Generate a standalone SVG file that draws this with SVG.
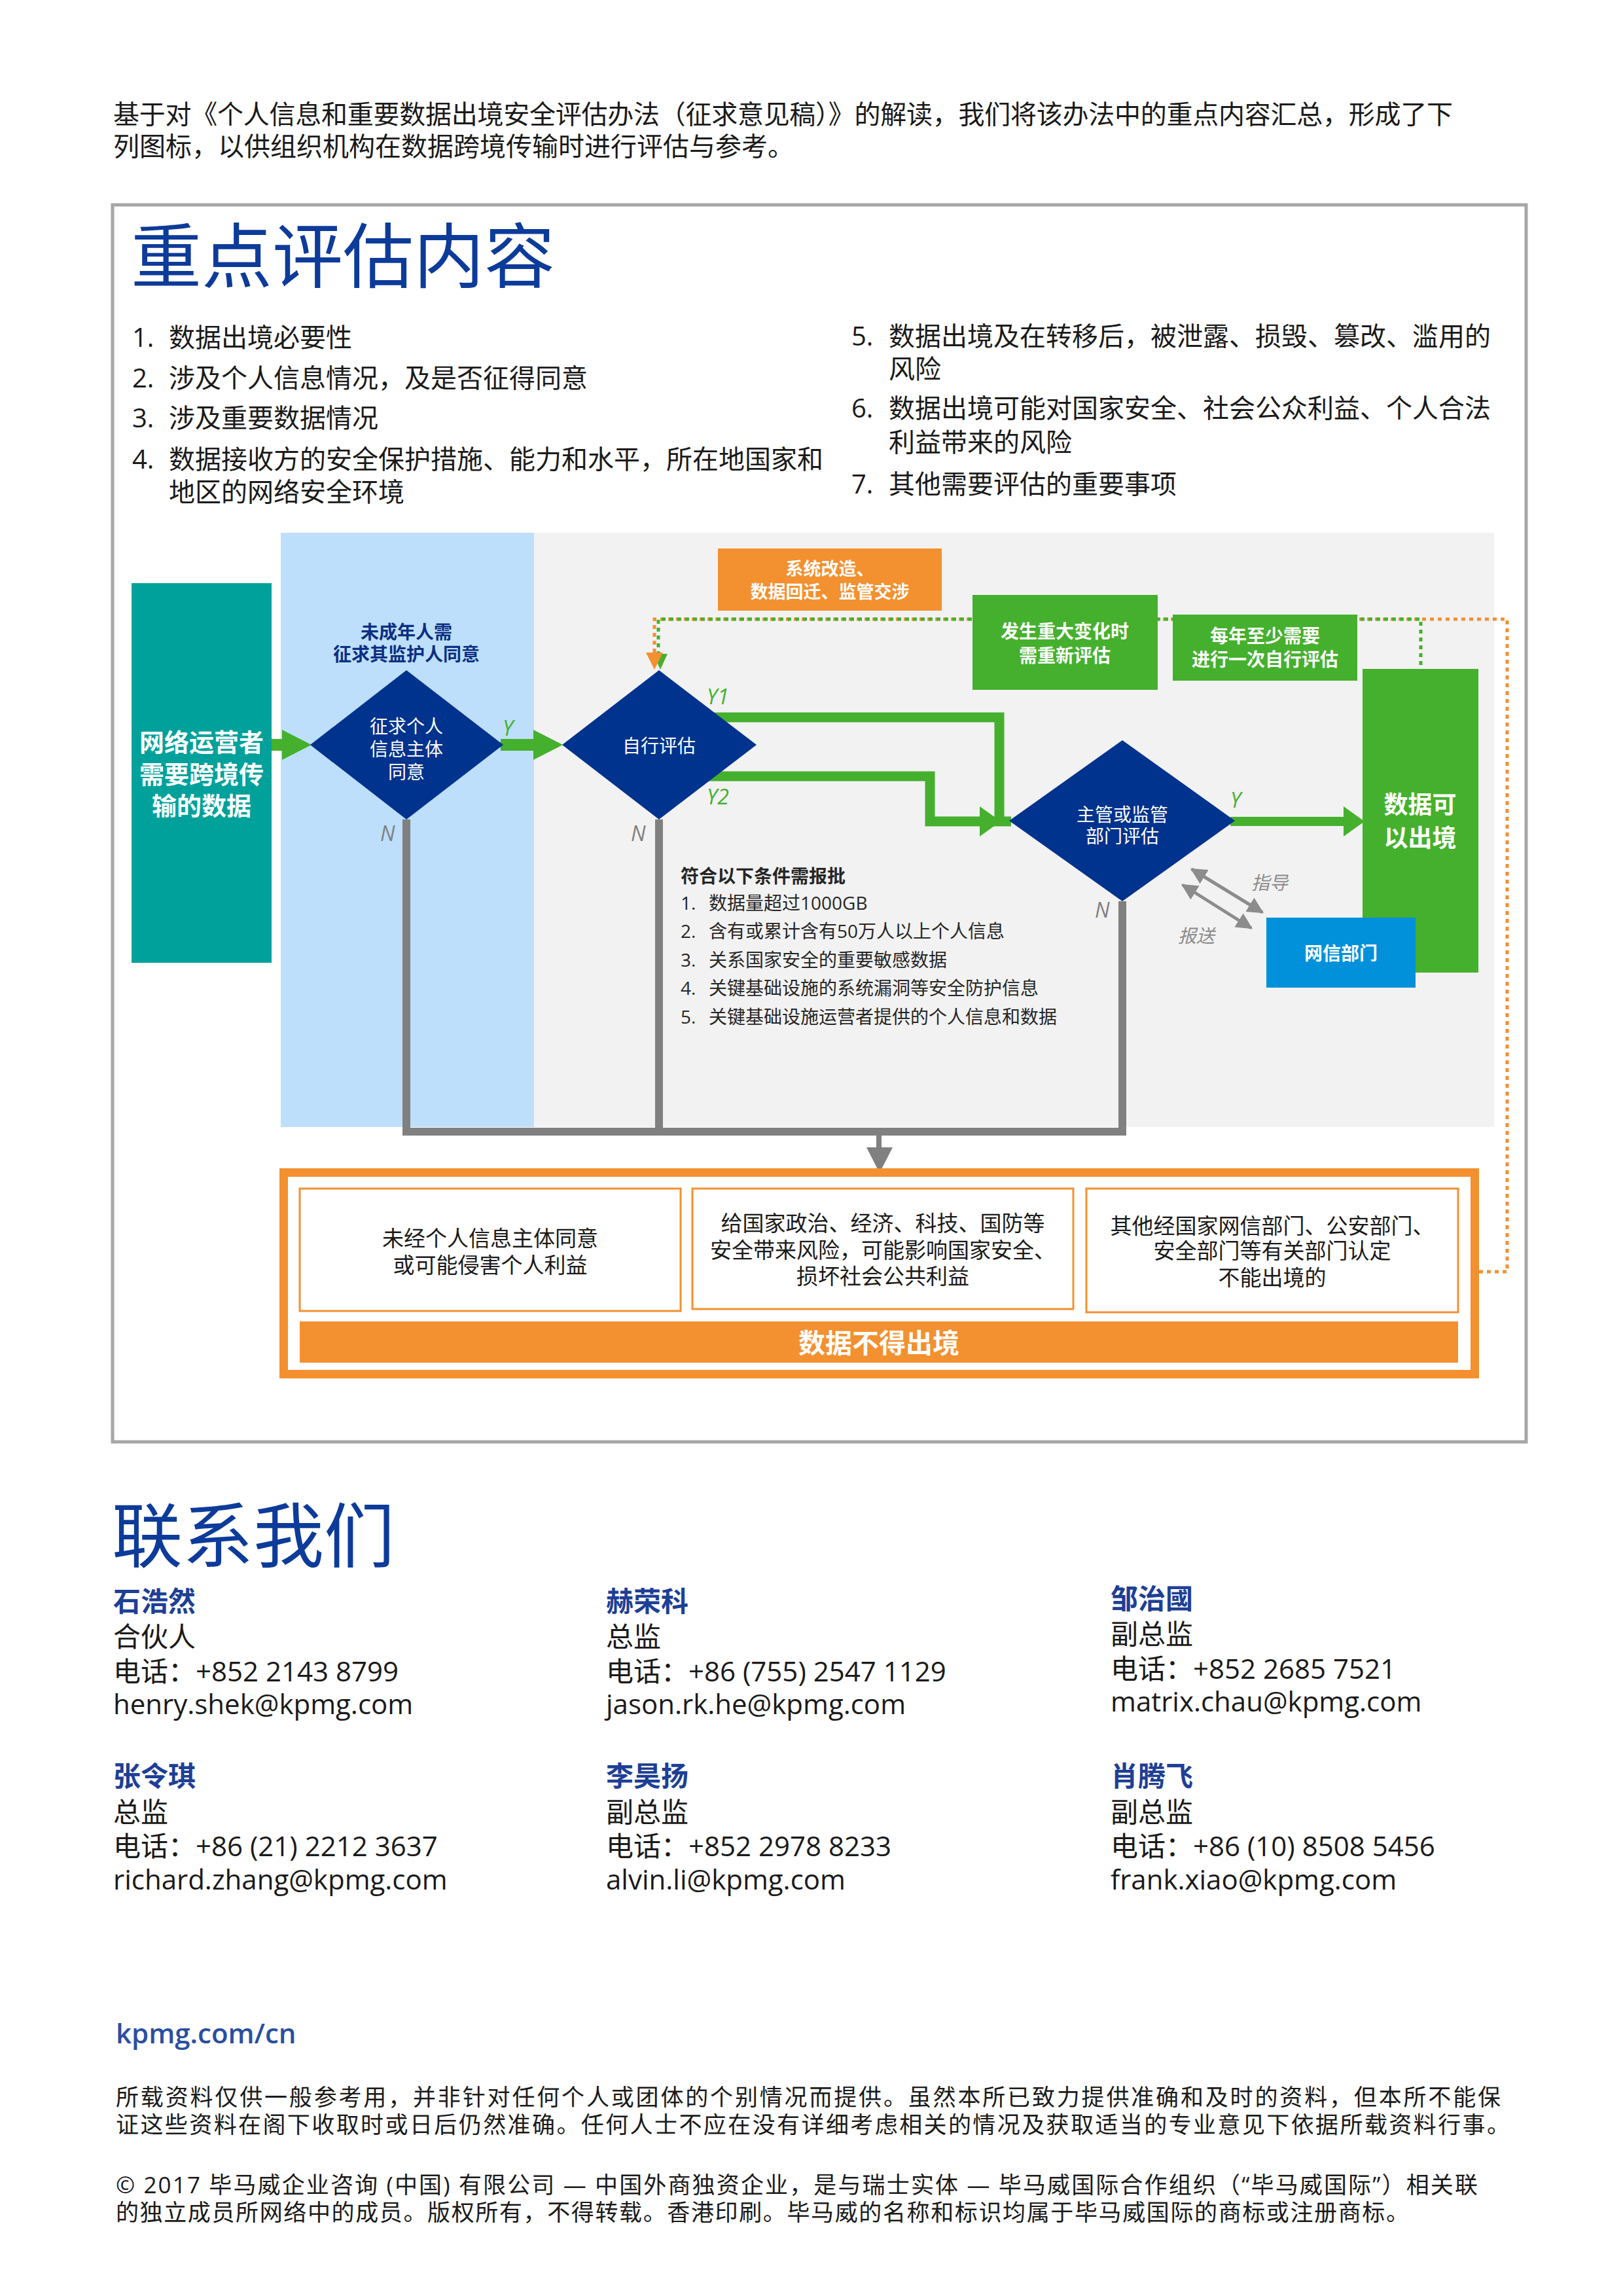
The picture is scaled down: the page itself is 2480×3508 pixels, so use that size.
<svg xmlns="http://www.w3.org/2000/svg" width="2480" height="3508" viewBox="0 0 2480 3508">
<defs>
<style>
text{font-family:"Open Sans","Noto Sans CJK SC",sans-serif;}
.cj{font-family:"Noto Sans CJK SC",sans-serif;}
.body{font-size:40px;fill:#1a1a1a;}
.h1{font-size:108px;fill:#0d3b9a;font-family:"Noto Sans CJK SC",sans-serif;}
.wt{fill:#ffffff;font-family:"Noto Sans CJK SC",sans-serif;}
.b{font-weight:700;}
.dt{font-size:28px;fill:#ffffff;text-anchor:middle;font-family:"Noto Sans CJK SC",sans-serif;}
.yl{font-size:32px;fill:#45b02d;font-style:italic;}
.nl{font-size:32px;fill:#808080;font-style:italic;}
.gl{font-size:28px;fill:#8c8c8c;font-style:italic;font-family:"Noto Sans CJK SC",sans-serif;}
.cond{font-size:28px;fill:#262626;}
.bx{font-size:33px;fill:#1a1a1a;text-anchor:middle;}
.nm{font-size:42px;fill:#1e3f96;font-weight:700;font-family:"Noto Sans CJK SC",sans-serif;}
.ct{font-size:42px;fill:#1a1a1a;}
.disc{font-size:35px;fill:#1a1a1a;}
.gline{fill:none;stroke:#808080;stroke-width:12;stroke-linejoin:miter;}
.grn{fill:none;stroke:#45b02d;stroke-width:15;stroke-linejoin:miter;}
.ghead{fill:#45b02d;}
.odot{fill:none;stroke:#f39030;stroke-width:5;stroke-dasharray:6 6;}
.gdot{fill:none;stroke:#45b02d;stroke-width:5;stroke-dasharray:6 6;stroke-dashoffset:6;}
.darr{stroke:#8c8c8c;stroke-width:5;fill:none;}
.dia{fill:#00338d;}
.ibox{fill:#ffffff;stroke:#f39030;stroke-width:3;}
</style>
<marker id="ah" viewBox="0 0 10 10" refX="9" refY="5" markerWidth="5" markerHeight="5" orient="auto-start-reverse" markerUnits="strokeWidth">
<path d="M0,0 L10,5 L0,10 z" fill="#8c8c8c"/>
</marker>
</defs>
<rect x="0" y="0" width="2480" height="3508" fill="#ffffff"/>

<!-- intro -->
<g id="intro">
<text class="body" x="173" y="189" textLength="2047" lengthAdjust="spacing">基于对《个人信息和重要数据出境安全评估办法（征求意见稿）》的解读，我们将该办法中的重点内容汇总，形成了下</text>
<text class="body" x="173" y="238">列图标，以供组织机构在数据跨境传输时进行评估与参考。</text>
</g>

<!-- page frame -->
<rect x="172" y="313" width="2160" height="1890" fill="#ffffff" stroke="#a6a6a6" stroke-width="5"/>

<g id="title">
<text class="h1" x="200" y="431">重点评估内容</text>
</g>

<g id="list">
<text class="body" x="202" y="530">1.</text><text class="body" x="258" y="530">数据出境必要性</text>
<text class="body" x="202" y="592">2.</text><text class="body" x="258" y="592">涉及个人信息情况，及是否征得同意</text>
<text class="body" x="202" y="653">3.</text><text class="body" x="258" y="653">涉及重要数据情况</text>
<text class="body" x="202" y="716">4.</text><text class="body" x="258" y="716">数据接收方的安全保护措施、能力和水平，所在地国家和</text>
<text class="body" x="258" y="766">地区的网络安全环境</text>
<text class="body" x="1301" y="528">5.</text><text class="body" x="1358" y="528">数据出境及在转移后，被泄露、损毁、篡改、滥用的</text>
<text class="body" x="1358" y="578">风险</text>
<text class="body" x="1301" y="638">6.</text><text class="body" x="1358" y="638">数据出境可能对国家安全、社会公众利益、个人合法</text>
<text class="body" x="1358" y="690">利益带来的风险</text>
<text class="body" x="1301" y="754">7.</text><text class="body" x="1358" y="754">其他需要评估的重要事项</text>
</g>

<!-- backgrounds -->
<rect x="429" y="814" width="387" height="908" fill="#bddffb"/>
<rect x="816" y="814" width="1467" height="908" fill="#f2f2f2"/>

<!-- connectors -->
<g id="connectors">
<path class="gline" d="M621,1252 V1729 H1715 V1377"/>
<path class="gline" d="M1007,1252 V1729"/>
<path d="M1343,1733 V1760" stroke="#808080" stroke-width="8"/>
<polygon points="1324,1753 1364,1753 1344,1792" fill="#808080"/>

<path d="M410,1138 H440" stroke="#45b02d" stroke-width="18"/>
<polygon class="ghead" points="431,1115 431,1161 476,1138"/>
<path d="M765,1138 H820" stroke="#45b02d" stroke-width="18"/>
<polygon class="ghead" points="815,1115 815,1161 860,1138"/>

<path class="grn" d="M1008,1096 H1527 V1262"/>
<path class="grn" d="M1008,1186 H1421 V1255 H1545"/>
<polygon class="ghead" points="1497,1232 1497,1278 1529,1255"/>

<path d="M1880,1255 H2058" stroke="#45b02d" stroke-width="14"/>
<polygon class="ghead" points="2053,1232 2053,1278 2085,1255"/>

<path class="odot" d="M2260,1943 H2303 V946 H1000 V1000"/>
<path class="gdot" d="M2171,1022 V946 H1006 V1000"/>
<polygon points="998,999 1020,999 1009,1023" fill="#45b02d"/>
<polygon points="987,997 1013,997 1000,1023" fill="#f39030"/>

<line class="darr" x1="1821" y1="1328" x2="1929" y2="1394" marker-start="url(#ah)" marker-end="url(#ah)"/>
<line class="darr" x1="1807" y1="1352" x2="1912" y2="1418" marker-start="url(#ah)" marker-end="url(#ah)"/>
</g>

<!-- nodes -->
<g id="source">
<rect x="201" y="891" width="214" height="580" fill="#00a19b"/>
<text class="wt b" x="308" y="1148" font-size="38" text-anchor="middle">网络运营者</text>
<text class="wt b" x="308" y="1197" font-size="38" text-anchor="middle">需要跨境传</text>
<text class="wt b" x="308" y="1245" font-size="38" text-anchor="middle">输的数据</text>
</g>

<g id="minor-note">
<text class="cj b" x="621" y="976" font-size="28" fill="#0c2f82" text-anchor="middle">未成年人需</text>
<text class="cj b" x="621" y="1010" font-size="28" fill="#0c2f82" text-anchor="middle">征求其监护人同意</text>
</g>

<g id="consent">
<polygon class="dia" points="621,1024 769,1138 621,1252 474,1138"/>
<text class="dt" x="621" y="1120">征求个人</text>
<text class="dt" x="621" y="1155">信息主体</text>
<text class="dt" x="621" y="1190">同意</text>
</g>

<g id="self-assess">
<polygon class="dia" points="1007,1024 1156,1138 1007,1252 859,1138"/>
<text class="dt" x="1007" y="1150">自行评估</text>
</g>

<g id="authority">
<polygon class="dia" points="1715,1131 1887,1254 1715,1377 1542,1254"/>
<text class="dt" x="1715" y="1255">主管或监管</text>
<text class="dt" x="1715" y="1288">部门评估</text>
</g>

<g id="rework">
<rect x="1097" y="838" width="342" height="95" fill="#f39030"/>
<text class="wt b" x="1268" y="879" font-size="27" text-anchor="middle">系统改造、</text>
<text class="wt b" x="1268" y="914" font-size="27" text-anchor="middle">数据回迁、监管交涉</text>
</g>

<g id="major-change">
<rect x="1486" y="909" width="283" height="145" fill="#45b02d"/>
<text class="wt b" x="1627" y="975" font-size="28" text-anchor="middle">发生重大变化时</text>
<text class="wt b" x="1627" y="1012" font-size="28" text-anchor="middle">需重新评估</text>
</g>

<g id="annual">
<rect x="1792" y="939" width="282" height="101" fill="#45b02d"/>
<text class="wt b" x="1933" y="982" font-size="28" text-anchor="middle">每年至少需要</text>
<text class="wt b" x="1933" y="1018" font-size="28" text-anchor="middle">进行一次自行评估</text>
</g>

<g id="allowed">
<rect x="2082" y="1022" width="177" height="464" fill="#45b02d"/>
<text class="wt b" x="2170" y="1243" font-size="37" text-anchor="middle">数据可</text>
<text class="wt b" x="2170" y="1294" font-size="37" text-anchor="middle">以出境</text>
</g>

<g id="cac">
<rect x="1935" y="1402" width="228" height="107" fill="#0091da"/>
<text class="wt b" x="2049" y="1467" font-size="28" text-anchor="middle">网信部门</text>
</g>

<g id="conditions">
<text class="cond cj b" x="1040" y="1349">符合以下条件需报批</text>
<text class="cond" x="1040" y="1390">1.</text><text class="cond" x="1083" y="1390">数据量超过1000GB</text>
<text class="cond" x="1040" y="1433">2.</text><text class="cond" x="1083" y="1433">含有或累计含有50万人以上个人信息</text>
<text class="cond" x="1040" y="1477">3.</text><text class="cond" x="1083" y="1477">关系国家安全的重要敏感数据</text>
<text class="cond" x="1040" y="1520">4.</text><text class="cond" x="1083" y="1520">关键基础设施的系统漏洞等安全防护信息</text>
<text class="cond" x="1040" y="1564">5.</text><text class="cond" x="1083" y="1564">关键基础设施运营者提供的个人信息和数据</text>
</g>

<g id="labels">
<text class="yl" x="768" y="1124">Y</text>
<text class="yl" x="1080" y="1076">Y1</text>
<text class="yl" x="1080" y="1229">Y2</text>
<text class="yl" x="1880" y="1234">Y</text>
<text class="nl" x="581" y="1285">N</text>
<text class="nl" x="964" y="1285">N</text>
<text class="nl" x="1673" y="1402">N</text>
<text class="gl" x="1912" y="1359">指导</text>
<text class="gl" x="1800" y="1440">报送</text>
</g>

<g id="denied">
<rect x="433.5" y="1791.5" width="1820" height="308" fill="#ffffff" stroke="#f39030" stroke-width="13"/>
<rect class="ibox" x="458" y="1816" width="582" height="187"/>
<rect class="ibox" x="1058" y="1816" width="582" height="184"/>
<rect class="ibox" x="1660" y="1816" width="568" height="189"/>
<text class="bx" x="749" y="1904">未经个人信息主体同意</text>
<text class="bx" x="749" y="1945">或可能侵害个人利益</text>
<text class="bx" x="1349" y="1881">给国家政治、经济、科技、国防等</text>
<text class="bx" x="1349" y="1922">安全带来风险，可能影响国家安全、</text>
<text class="bx" x="1349" y="1962">损坏社会公共利益</text>
<text class="bx" x="1944" y="1885">其他经国家网信部门、公安部门、</text>
<text class="bx" x="1944" y="1923">安全部门等有关部门认定</text>
<text class="bx" x="1944" y="1964">不能出境的</text>
<rect x="458" y="2019" width="1770" height="63" fill="#f39030"/>
<text class="wt b" x="1343" y="2067" font-size="41" text-anchor="middle">数据不得出境</text>
</g>

<!-- contacts -->
<g id="contacts">
<text class="h1" x="171" y="2386" font-size="105">联系我们</text>
<text class="nm" x="173" y="2462">石浩然</text>
<text class="ct" x="173" y="2516">合伙人</text>
<text class="ct" x="173" y="2569">电话：+852 2143 8799</text>
<text class="ct" x="173" y="2619">henry.shek@kpmg.com</text>
<text class="nm" x="926" y="2462">赫荣科</text>
<text class="ct" x="926" y="2516">总监</text>
<text class="ct" x="926" y="2569">电话：+86 (755) 2547 1129</text>
<text class="ct" x="926" y="2619">jason.rk.he@kpmg.com</text>
<text class="nm" x="1697" y="2458">邹治國</text>
<text class="ct" x="1697" y="2512">副总监</text>
<text class="ct" x="1697" y="2565">电话：+852 2685 7521</text>
<text class="ct" x="1697" y="2615">matrix.chau@kpmg.com</text>
<text class="nm" x="173" y="2729">张令琪</text>
<text class="ct" x="173" y="2784">总监</text>
<text class="ct" x="173" y="2836">电话：+86 (21) 2212 3637</text>
<text class="ct" x="173" y="2887">richard.zhang@kpmg.com</text>
<text class="nm" x="926" y="2729">李昊扬</text>
<text class="ct" x="926" y="2784">副总监</text>
<text class="ct" x="926" y="2836">电话：+852 2978 8233</text>
<text class="ct" x="926" y="2887">alvin.li@kpmg.com</text>
<text class="nm" x="1697" y="2729">肖腾飞</text>
<text class="ct" x="1697" y="2784">副总监</text>
<text class="ct" x="1697" y="2836">电话：+86 (10) 8508 5456</text>
<text class="ct" x="1697" y="2887">frank.xiao@kpmg.com</text>
</g>

<g id="footer">
<text x="177" y="3122" font-size="42" font-weight="600" fill="#2a4fa0">kpmg.com/cn</text>
<text class="disc" x="177" y="3217" textLength="2116" lengthAdjust="spacing">所载资料仅供一般参考用，并非针对任何个人或团体的个别情况而提供。虽然本所已致力提供准确和及时的资料，但本所不能保</text>
<text class="disc" x="177" y="3259" textLength="2130" lengthAdjust="spacing">证这些资料在阁下收取时或日后仍然准确。任何人士不应在没有详细考虑相关的情况及获取适当的专业意见下依据所载资料行事。</text>
<text class="disc" x="177" y="3351" textLength="2081" lengthAdjust="spacing">© 2017 毕马威企业咨询 (中国) 有限公司 — 中国外商独资企业，是与瑞士实体 — 毕马威国际合作组织（“毕马威国际”）相关联</text>
<text class="disc" x="177" y="3393" textLength="1976" lengthAdjust="spacing">的独立成员所网络中的成员。版权所有，不得转载。香港印刷。毕马威的名称和标识均属于毕马威国际的商标或注册商标。</text>
</g>
</svg>
